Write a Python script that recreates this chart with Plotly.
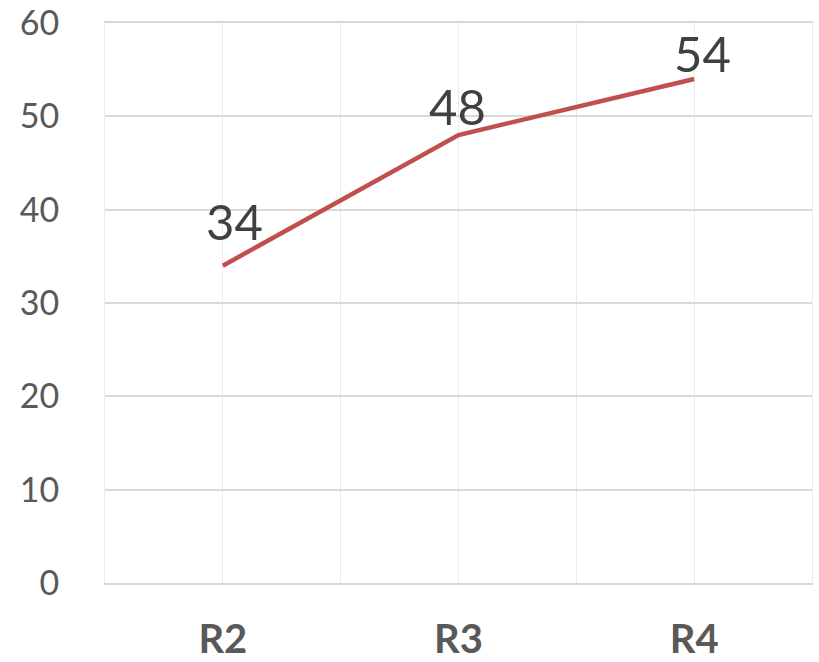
import plotly.graph_objects as go

# Series data
categories = ["R2", "R3", "R4"]
values = [34, 48, 54]
y_ticks = [0, 10, 20, 30, 40, 50, 60]

positions = list(range(len(categories)))

# Gridlines sit at each category centre and at the boundaries between them
x_tickvals = [i * 0.5 - 0.5 for i in range(2 * len(categories) + 1)]
x_ticktext = [categories[int(v)] if v == int(v) and v >= 0 else "" for v in x_tickvals]

# Per-label nudges for the value labels (pixels)
label_dx = [12, -1, 8]
label_dy = [14, -2, -5]

fig = go.Figure()
fig.add_trace(go.Scatter(
    x=positions,
    y=values,
    mode="lines",
    line=dict(color="#C0504D", width=4.5),
    cliponaxis=False,
    hoverinfo="skip",
))

for x, v, dx, dy in zip(positions, values, label_dx, label_dy):
    fig.add_annotation(
        x=x, y=v, text=str(v), showarrow=False,
        xanchor="center", yanchor="bottom",
        xshift=dx, yshift=dy,
        font=dict(family="Lato", size=49, color="#404040"),
    )

fig.update_layout(
    width=819,
    height=662,
    margin=dict(l=105, r=7, t=23, b=79),
    paper_bgcolor="white",
    plot_bgcolor="white",
    showlegend=False,
    xaxis=dict(
        range=[-0.5, 2.5],
        tickmode="array",
        tickvals=x_tickvals,
        ticktext=x_ticktext,
        showgrid=True,
        gridcolor="#EBEBEB",
        gridwidth=1,
        zeroline=False,
        showline=True,
        linecolor="#D9D9D9",
        linewidth=1.5,
        mirror=True,
        ticks="",
        tickfont=dict(family="Lato", size=40, color="#595959", weight="bold"),
        ticklabelstandoff=20,
        automargin=False,
    ),
    yaxis=dict(
        range=[0, 60],
        tickmode="array",
        tickvals=y_ticks,
        showgrid=True,
        gridcolor="#D9D9D9",
        gridwidth=1.5,
        zeroline=False,
        showline=True,
        linecolor="#EBEBEB",
        linewidth=1,
        mirror=True,
        ticks="",
        tickfont=dict(family="Lato", size=34, color="#595959"),
        ticklabelstandoff=38,
        automargin=False,
    ),
)

fig.write_html("out.html")
